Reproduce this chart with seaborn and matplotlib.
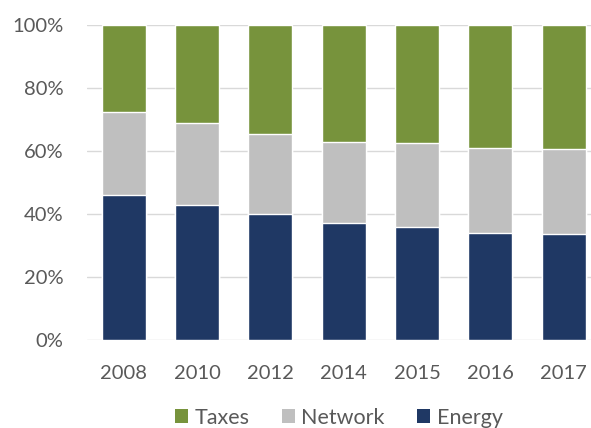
import matplotlib
matplotlib.use("Agg")
import matplotlib.pyplot as plt
from matplotlib.patches import Patch
from matplotlib.ticker import PercentFormatter
import numpy as np
import pandas as pd
import seaborn as sns

years = ["2008", "2010", "2012", "2014", "2015", "2016", "2017"]
energy = [46.0, 43.0, 40.0, 37.0, 36.0, 34.0, 33.5]
network = [26.5, 26.0, 25.5, 26.0, 26.5, 27.0, 27.0]
taxes = [27.5, 31.0, 34.5, 37.0, 37.5, 39.0, 39.5]

series = ["Taxes", "Network", "Energy"]
colors = {"Taxes": "#77933C", "Network": "#BFBFBF", "Energy": "#1F3864"}

df = pd.DataFrame({"year": years, "Energy": energy, "Network": network, "Taxes": taxes})
df["Network_top"] = df["Energy"] + df["Network"]
df["Taxes_top"] = df["Network_top"] + df["Taxes"]

sns.set_theme(style="white")
plt.rcParams["font.family"] = ["Lato", "DejaVu Sans"]

W, H = 591, 428
fig = plt.figure(figsize=(W / 100, H / 100), dpi=100)
ax = fig.add_axes([87 / W, 1 - 340 / H, (W - 87) / W, 315 / H])

# stacked bars: draw cumulative tops from back to front
for col, name in [("Taxes_top", "Taxes"), ("Network_top", "Network"), ("Energy", "Energy")]:
    sns.barplot(data=df, x="year", y=col, color=colors[name], width=0.6,
                saturation=1, ax=ax, zorder=3)

ax.set_xlim(-0.5, -0.5 + (W - 87) / 73.35)
ax.set_ylim(0, 100)
ax.set_yticks(np.arange(0, 101, 20))
ax.yaxis.set_major_formatter(PercentFormatter(decimals=0))
ax.grid(axis="y", color="#D9D9D9", linewidth=1, zorder=0)
ax.set_axisbelow(True)
for s in ax.spines.values():
    s.set_visible(False)
ax.set_xlabel("")
ax.set_ylabel("")
ax.tick_params(axis="both", length=0, labelsize=14.5, colors="#595959")
ax.tick_params(axis="y", pad=17)
ax.tick_params(axis="x", pad=18)

handles = [Patch(facecolor=colors[s], edgecolor="none", label=s) for s in series]
leg = ax.legend(handles=handles, loc="center", bbox_to_anchor=(0.5, -0.247),
                ncol=3, frameon=False, fontsize=15.5, handlelength=0.6, handleheight=0.6,
                handletextpad=0.3, columnspacing=1.5, labelcolor="#595959",
                borderpad=0, borderaxespad=0)

fig.savefig("out.png", dpi=100)
